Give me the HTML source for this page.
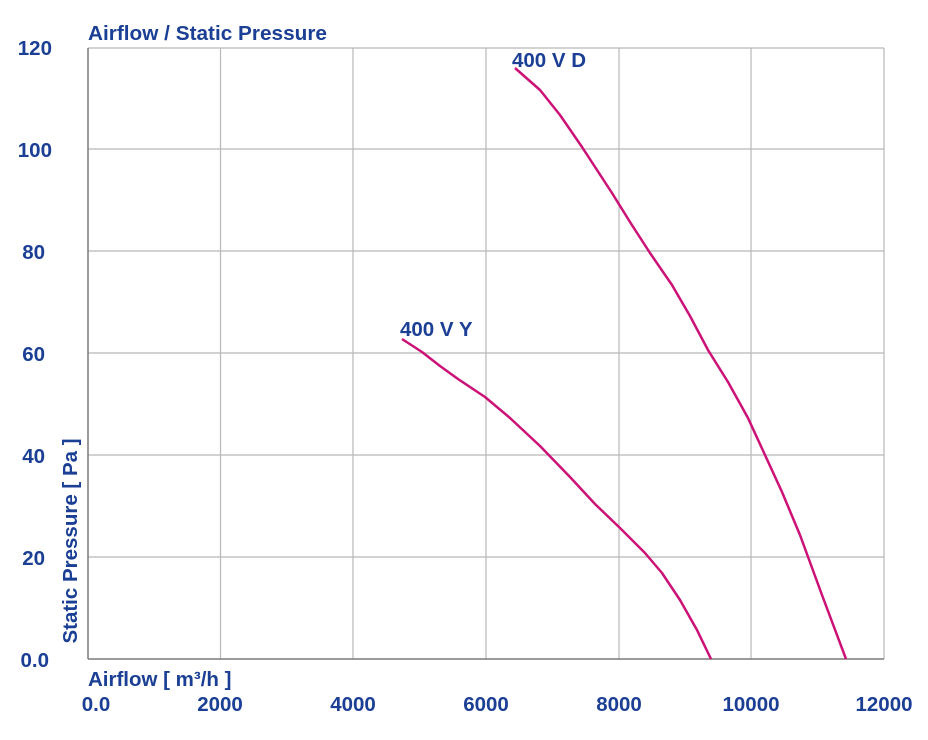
<!DOCTYPE html>
<html><head><style>
body{margin:0;background:#fff;}
svg text{font-family:"Liberation Sans",Arial,sans-serif;fill:#1a3f94;font-weight:bold;}
</style></head><body>
<svg width="928" height="735" viewBox="0 0 928 735" xmlns="http://www.w3.org/2000/svg">
<g stroke="#b8b8b8" stroke-width="1.2">
<line x1="220.5" y1="48" x2="220.5" y2="659"/><line x1="353" y1="48" x2="353" y2="659"/>
<line x1="486" y1="48" x2="486" y2="659"/><line x1="619" y1="48" x2="619" y2="659"/>
<line x1="751" y1="48" x2="751" y2="659"/><line x1="884" y1="48" x2="884" y2="659"/>
<line x1="88" y1="48" x2="884" y2="48"/><line x1="88" y1="149" x2="884" y2="149"/>
<line x1="88" y1="251" x2="884" y2="251"/><line x1="88" y1="353" x2="884" y2="353"/>
<line x1="88" y1="455" x2="884" y2="455"/><line x1="88" y1="557" x2="884" y2="557"/>
</g>
<g stroke="#7a7a7a" stroke-width="1.5"><line x1="88" y1="48" x2="88" y2="659"/><line x1="88" y1="659" x2="884" y2="659"/></g>
<g fill="none" stroke="#cc1177" stroke-width="2.5" stroke-linejoin="round">
<polyline points="515,68 540,90 560,115 582,147 597,170 612,193 630,222 650,253 672,285 690,316 708,350 728,382 748,418 765,455 782,492 800,535 822,595 846,659"/>
<polyline points="402,339 422,352 440,366 458,379 485,397 510,418 540,446 570,477 595,504 620,528 645,553 662,573 680,600 697,630 711,659"/>
</g>
<text x="88" y="40" font-size="20.5" textLength="239" lengthAdjust="spacingAndGlyphs">Airflow / Static Pressure</text>
<text x="512" y="67" font-size="20.5">400 V D</text>
<text x="400" y="336" font-size="20.5">400 V Y</text>
<g font-size="20.5" text-anchor="end">
<text x="52" y="55">120</text><text x="52" y="157">100</text><text x="45" y="259">80</text>
<text x="45" y="361">60</text><text x="45" y="463">40</text><text x="45" y="565">20</text><text x="49" y="667">0.0</text>
</g>
<text x="88" y="686" font-size="20.5">Airflow [ m³/h ]</text>
<g font-size="20.5" text-anchor="middle">
<text x="96" y="711">0.0</text><text x="220" y="711">2000</text><text x="353" y="711">4000</text>
<text x="486" y="711">6000</text><text x="619" y="711">8000</text><text x="751" y="711">10000</text><text x="884" y="711">12000</text>
</g>
<text transform="translate(77,541) rotate(-90)" font-size="20.5" text-anchor="middle">Static Pressure [ Pa ]</text>
</svg>
</body></html>
